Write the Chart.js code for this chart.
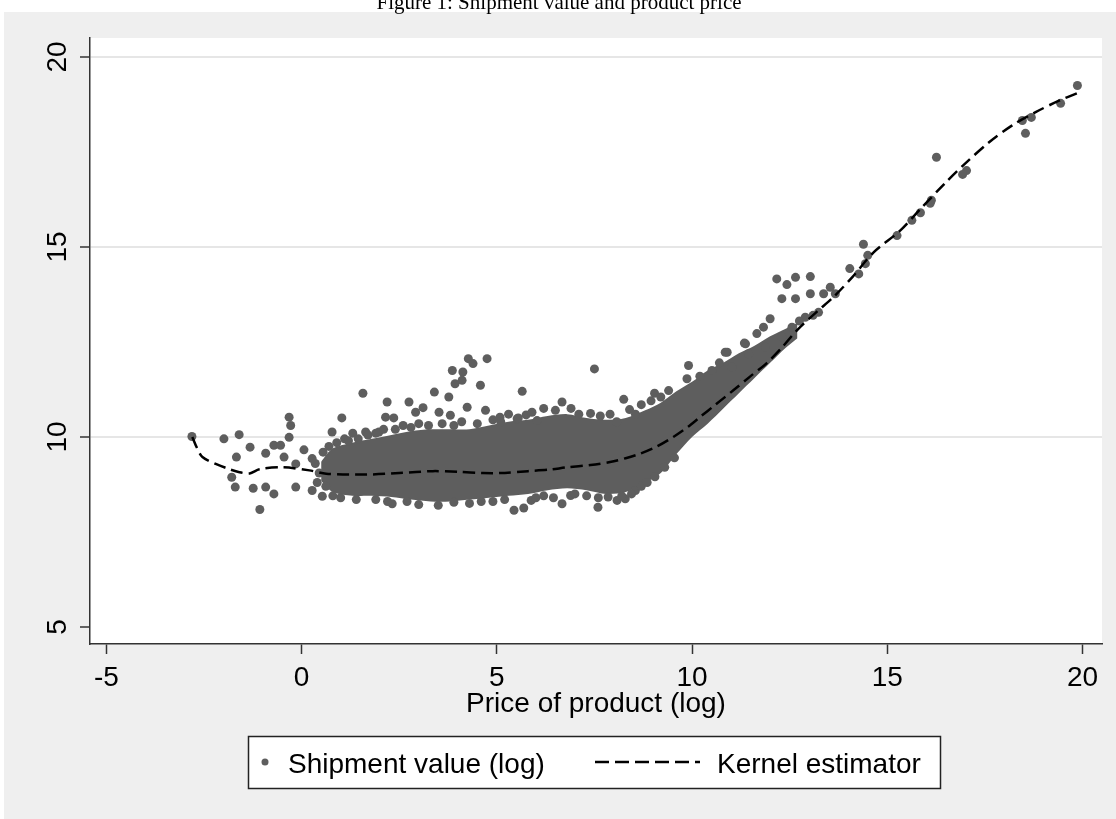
<!DOCTYPE html>
<html>
<head>
<meta charset="utf-8">
<script src="https://cdn.jsdelivr.net/npm/chart.js@4.4.1/dist/chart.umd.min.js"></script>
<style>
  html, body { margin: 0; padding: 0; background: #fff; }
  #wrap { position: relative; width: 1116px; height: 819px; }
</style>
</head>
<body>
<div id="wrap"><canvas id="chart"></canvas></div>
<script>
// figure text
const figTitle = "Figure 1: Shipment value and product price";
const xTitle = "Price of product (log)";
const shipLabel = "Shipment value (log)";
const kernLabel = "Kernel estimator";

// axis ticks
const xTicks = [-5, 0, 5, 10, 15, 20];
const yTicks = [5, 10, 15, 20];

// isolated observations (left tail, outliers above and below the cloud)
const shipOutliers = [
  [-2.81, 10.01], [-1.99, 9.95], [-1.6, 10.06], [-1.67, 9.47], [-1.79, 8.94], [-1.7, 8.68],
  [-1.32, 9.73], [-1.24, 8.65], [-1.07, 8.09], [-0.92, 9.57], [-0.71, 9.78], [-0.54, 9.78],
  [-0.71, 8.5], [-0.92, 8.68], [-0.45, 9.47], [-0.32, 10.52], [-0.28, 10.3], [-0.32, 9.99],
  [-0.15, 9.29], [0.06, 9.66], [-0.15, 8.68], [0.27, 9.43], [0.27, 8.59], [0.53, 8.44],
  [0.78, 10.13], [1.03, 10.5], [1.31, 10.1], [1.57, 11.15], [1.64, 10.13], [1.98, 10.13],
  [2.19, 10.92], [2.15, 10.52], [2.36, 10.5], [2.32, 8.24], [2.75, 10.92], [2.92, 10.65],
  [3.11, 10.77], [3.4, 11.18], [3.52, 10.65], [3.77, 11.05], [3.81, 10.57], [3.86, 11.75],
  [3.93, 11.4], [4.13, 11.71], [4.11, 11.49], [4.27, 12.06], [4.39, 11.93], [4.75, 12.06],
  [4.58, 11.36], [4.24, 10.78], [4.71, 10.7], [5.08, 10.52], [5.65, 11.2], [5.52, 10.48],
  [6.03, 10.43], [5.44, 8.07], [5.69, 8.13], [5.88, 8.33], [6.67, 8.24], [6.89, 8.46],
  [7.59, 8.15], [8.08, 8.33], [8.29, 8.37], [8.55, 8.59], [7.5, 11.79], [8.25, 10.99],
  [9.04, 11.15], [9.4, 11.22], [9.91, 11.88], [9.87, 11.53]
];

// observations on the ragged edge of the dense cloud
const shipEdge = [
  [0.35, 9.3], [0.4, 8.8], [0.45, 9.05], [0.55, 9.6], [0.62, 8.7], [0.7, 9.75], [0.9, 9.85],
  [1.1, 9.95], [1.2, 9.9], [1.45, 9.95], [1.7, 10.05], [1.9, 10.1], [2.1, 10.2], [2.4, 10.2],
  [2.6, 10.3], [2.8, 10.25], [3.0, 10.35], [3.25, 10.3], [3.6, 10.35], [3.9, 10.3], [4.1, 10.4],
  [4.5, 10.35], [4.9, 10.45], [5.1, 10.4], [5.3, 10.6], [5.55, 10.5], [5.75, 10.58], [5.9, 10.65],
  [6.2, 10.75], [6.5, 10.7], [6.67, 10.92], [6.9, 10.75], [7.1, 10.6], [7.4, 10.62], [7.65, 10.55],
  [7.9, 10.6], [8.07, 10.4], [8.4, 10.72], [8.55, 10.6], [8.7, 10.85], [8.95, 10.95], [9.2, 11.05],
  [0.8, 8.45], [1.0, 8.4], [1.4, 8.35], [1.9, 8.35], [2.2, 8.3], [2.7, 8.3], [3.0, 8.22],
  [3.5, 8.2], [3.9, 8.28], [4.3, 8.25], [4.6, 8.3], [4.9, 8.3], [5.2, 8.35], [6.0, 8.4],
  [6.2, 8.45], [6.45, 8.4], [7.0, 8.5], [7.3, 8.45], [7.6, 8.4], [7.85, 8.42], [8.2, 8.45],
  [8.45, 8.5], [8.7, 8.7], [8.85, 8.8], [9.05, 8.95], [9.3, 9.2], [9.55, 9.45]
];

// rising branch, high prices
const shipUpper = [
  [19.87, 19.25], [19.44, 18.78], [18.69, 18.41], [18.46, 18.33], [18.54, 17.99], [17.03, 17.01],
  [16.93, 16.91], [16.26, 17.36], [16.13, 16.23], [16.1, 16.15], [15.85, 15.9], [15.63, 15.7],
  [15.25, 15.3], [14.39, 15.07], [14.5, 14.78], [14.44, 14.56], [14.27, 14.29], [14.04, 14.43],
  [13.67, 13.77], [13.54, 13.94], [13.37, 13.77], [13.03, 14.22], [13.03, 13.77], [12.65, 14.2],
  [12.65, 13.64], [12.43, 14.01], [12.17, 14.16], [12.3, 13.64], [13.24, 13.28], [12.9, 13.15],
  [12.0, 13.11], [11.83, 12.89], [11.66, 12.72], [11.37, 12.45], [10.9, 12.23], [12.56, 12.89],
  [12.3, 12.63], [11.45, 12.19], [10.51, 11.75], [11.02, 11.84], [11.88, 12.36], [10.85, 12.23],
  [11.34, 12.47], [10.2, 11.6], [10.7, 11.95], [12.75, 13.05], [13.1, 13.2]
];

// dense part of the cloud: upper and lower envelope read at the same x
const cloudX    = [0.5, 0.8, 1.3, 1.8, 2.3, 2.8, 3.3, 3.8, 4.3, 4.8, 5.3, 5.8, 6.3, 6.8, 7.3, 7.8, 8.3, 8.8, 9.2, 9.6, 10.0, 10.4, 10.8, 11.2, 11.6, 12.0, 12.4, 12.7];
const cloudHigh = [9.35, 9.7, 9.85, 9.95, 10.05, 10.15, 10.2, 10.2, 10.2, 10.3, 10.4, 10.45, 10.55, 10.6, 10.5, 10.45, 10.5, 10.7, 10.9, 11.2, 11.45, 11.75, 11.95, 12.2, 12.4, 12.65, 12.85, 13.0];
const cloudLow  = [8.85, 8.55, 8.45, 8.45, 8.42, 8.35, 8.3, 8.3, 8.35, 8.4, 8.45, 8.5, 8.6, 8.65, 8.6, 8.5, 8.55, 8.8, 9.05, 9.55, 10.0, 10.35, 10.75, 11.15, 11.55, 11.95, 12.35, 12.6];

// kernel estimator
const kernX = [-2.8, -2.67, -2.54, -2.2, -1.9, -1.59, -1.33, -1.08, -0.49, 0.2, 0.63, 1.66, 2.5, 3.36, 4.0, 4.64, 5.08, 5.8, 6.36, 6.79, 7.4, 7.9, 8.3, 8.67, 9.1, 9.52, 9.9, 10.2, 10.6, 11.05, 11.5, 11.9, 12.3, 12.68, 13.2, 13.62, 14.1, 14.65, 15.33, 15.85, 16.5, 17.0, 17.6, 18.2, 18.8, 19.4, 19.87];
const kernY = [10.0, 9.69, 9.47, 9.29, 9.17, 9.07, 9.04, 9.15, 9.2, 9.12, 9.03, 9.01, 9.05, 9.1, 9.08, 9.05, 9.05, 9.1, 9.14, 9.2, 9.26, 9.34, 9.44, 9.56, 9.75, 10.0, 10.27, 10.52, 10.85, 11.22, 11.6, 11.93, 12.35, 12.8, 13.3, 13.68, 14.2, 14.86, 15.43, 16.0, 16.7, 17.2, 17.75, 18.2, 18.55, 18.85, 19.05];

const GRAY = "#5e5e5e";
const AXIS = "#333333";
const FONT = '"Liberation Sans", Arial, sans-serif';

const toPts = arr => arr.map(p => ({ x: p[0], y: p[1] }));

const pageBg = {
  id: "pageBg",
  beforeDraw(chart) {
    const { ctx, chartArea: a } = chart;
    ctx.save();
    ctx.fillStyle = "#ffffff";
    ctx.fillRect(0, 0, chart.width, chart.height);
    ctx.fillStyle = "#efefef";
    ctx.fillRect(4, 12, chart.width - 4, chart.height - 12);
    ctx.fillStyle = "#ffffff";
    ctx.fillRect(a.left, a.top, a.right - a.left, a.bottom - a.top);
    ctx.restore();
  },
  afterDraw(chart) {
    const { ctx } = chart;
    ctx.save();
    // figure caption, clipped at the top of the page
    ctx.fillStyle = "#000";
    ctx.font = '21px "Liberation Serif", "Times New Roman", serif';
    ctx.textAlign = "center";
    ctx.textBaseline = "alphabetic";
    ctx.fillText(figTitle, 559, 9);

    // rotated y tick labels
    const ys = chart.scales.y;
    ctx.font = "28px " + FONT;
    ys.ticks.forEach(t => {
      const py = ys.getPixelForValue(t.value);
      ctx.save();
      ctx.translate(66, py);
      ctx.rotate(-Math.PI / 2);
      ctx.textAlign = "center";
      ctx.fillText(String(t.value), 0, 0);
      ctx.restore();
    });

    // legend box
    ctx.fillStyle = "#fff";
    ctx.fillRect(248, 736, 693, 53);
    ctx.strokeStyle = "#222";
    ctx.lineWidth = 1.5;
    ctx.strokeRect(248.5, 736.5, 692, 52);

    ctx.fillStyle = GRAY;
    ctx.beginPath();
    ctx.arc(265, 762, 3.5, 0, Math.PI * 2);
    ctx.fill();

    ctx.strokeStyle = "#000";
    ctx.lineWidth = 2.5;
    ctx.setLineDash([14, 6]);
    ctx.beginPath();
    ctx.moveTo(595, 762);
    ctx.lineTo(700, 762);
    ctx.stroke();
    ctx.setLineDash([]);

    ctx.fillStyle = "#000";
    ctx.textAlign = "left";
    ctx.font = "28px " + FONT;
    ctx.fillText(shipLabel, 288, 773);
    ctx.fillText(kernLabel, 717, 773);
    ctx.restore();
  }
};

const ctx = document.getElementById("chart").getContext("2d");

new Chart(ctx, {
  type: "scatter",
  data: {
    datasets: [
      {
        type: "line",
        label: kernLabel,
        data: kernX.map((x, i) => ({ x, y: kernY[i] })),
        borderColor: "#000",
        borderWidth: 2.5,
        borderDash: [12, 6],
        pointRadius: 0,
        tension: 0.3,
        fill: false,
        order: 0
      },
      {
        label: shipLabel,
        data: toPts(shipOutliers).concat(toPts(shipEdge), toPts(shipUpper)),
        backgroundColor: GRAY,
        borderWidth: 0,
        pointRadius: 4.5,
        order: 1
      },
      {
        type: "line",
        label: "cloud-high",
        data: cloudX.map((x, i) => ({ x, y: cloudHigh[i] })),
        borderWidth: 0,
        borderColor: GRAY,
        backgroundColor: GRAY,
        pointRadius: 0,
        tension: 0.3,
        fill: "+1",
        order: 2
      },
      {
        type: "line",
        label: "cloud-low",
        data: cloudX.map((x, i) => ({ x, y: cloudLow[i] })),
        borderWidth: 0,
        borderColor: GRAY,
        pointRadius: 0,
        tension: 0.3,
        fill: false,
        order: 2
      }
    ]
  },
  options: {
    responsive: true,
    maintainAspectRatio: false,
    animation: false,
    devicePixelRatio: 1,
    layout: { padding: { left: 0, right: 14, top: 38, bottom: 0 } },
    plugins: {
      legend: { display: false },
      tooltip: { enabled: false }
    },
    scales: {
      x: {
        type: "linear",
        min: -5.42,
        max: 20.5,
        afterBuildTicks: s => { s.ticks = xTicks.map(v => ({ value: v })); },
        afterFit: s => { s.height = 175; },
        grid: { drawOnChartArea: false, drawTicks: true, tickLength: 10, tickColor: AXIS, tickWidth: 1.5 },
        border: { color: AXIS, width: 1.5 },
        ticks: { color: "#000", font: { family: FONT, size: 28 }, padding: 7, maxRotation: 0, autoSkip: false },
        title: {
          display: true,
          text: xTitle,
          color: "#000",
          font: { family: FONT, size: 28, lineHeight: 1.2 },
          padding: { top: 0, bottom: 98 }
        }
      },
      y: {
        type: "linear",
        min: 4.55,
        max: 20.5,
        afterBuildTicks: s => { s.ticks = yTicks.map(v => ({ value: v })); },
        afterFit: s => { s.width = 90; },
        grid: {
          color: c => (c.tick && c.tick.value === yTicks[0]) ? "rgba(0,0,0,0)" : "#e6e6e6",
          lineWidth: 2,
          tickLength: 10,
          tickColor: AXIS,
          tickWidth: 1.5
        },
        border: { color: AXIS, width: 1.5 },
        ticks: { display: false }
      }
    }
  },
  plugins: [pageBg]
});
</script>
</body>
</html>
